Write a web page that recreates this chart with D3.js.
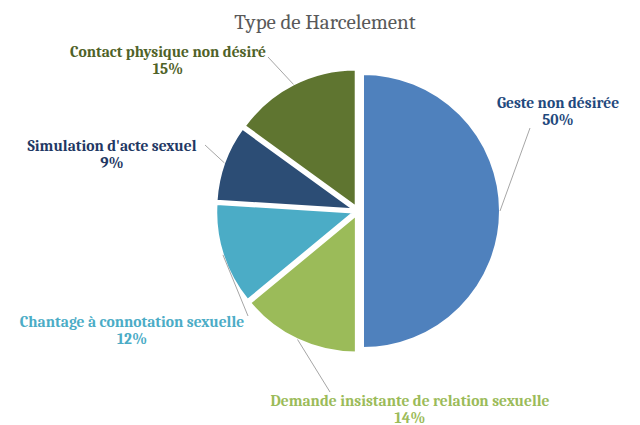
<!DOCTYPE html><html><head><meta charset="utf-8">
<script src="https://cdn.jsdelivr.net/npm/d3@7"></script>
<style>body{margin:0;background:#fff}</style></head><body><svg width="640" height="425"></svg>
<script>
const categories=["Geste non désirée","Demande insistante de relation sexuelle","Chantage à connotation sexuelle","Simulation d'acte sexuel","Contact physique non désiré"];
const values=[50,14,12,9,15];
const colors=["#4F81BD","#9BBB59","#4BACC6","#2C4D75","#5F7530"];
const labelColors=["#1F497D","#9BBB59","#4BACC6","#1F3864","#4F6228"];
const labelPos=[[558,103],[410,401],[132,322],[112,146],[168,52]];
const leaderEnd=[[530,128],[330,392],[248,316],[205,145],[268,57]];
const svg=d3.select("svg"),cx=358,cy=211,r=137,font="Cambria, 'Liberation Serif', 'DejaVu Serif', serif";
svg.append("text").attr("x",325).attr("y",29).attr("text-anchor","middle").attr("font-family",font).attr("font-size",21).attr("fill","#595959").text("Type de Harcelement");
const pie=d3.pie().sort(null).value(d=>d)(values);
const arc=d3.arc().innerRadius(0).outerRadius(r);
const g=svg.append("g").attr("transform",`translate(${cx},${cy})`);
pie.forEach((p,i)=>{
 const m=(p.startAngle+p.endAngle)/2, off=5;
 const dx=Math.sin(m)*off, dy=-Math.cos(m)*off;
 g.append("path").attr("d",arc(p)).attr("transform",`translate(${dx},${dy})`).attr("fill",colors[i]).attr("stroke","#fff").attr("stroke-width",2);
 const ex=Math.sin(m)*(r+off)+cx, ey=-Math.cos(m)*(r+off)+cy;
 svg.append("line").attr("x1",ex).attr("y1",ey).attr("x2",leaderEnd[i][0]).attr("y2",leaderEnd[i][1]).attr("stroke","#a6a6a6").attr("stroke-width",1);
 const t=svg.append("text").attr("text-anchor","middle").attr("font-family",font).attr("font-weight","bold").attr("font-size",15.5).attr("fill",labelColors[i]);
 t.append("tspan").attr("x",labelPos[i][0]).attr("y",labelPos[i][1]+5).text(categories[i]);
 t.append("tspan").attr("x",labelPos[i][0]).attr("y",labelPos[i][1]+22).text(values[i]+"%");
});
</script></body></html>
